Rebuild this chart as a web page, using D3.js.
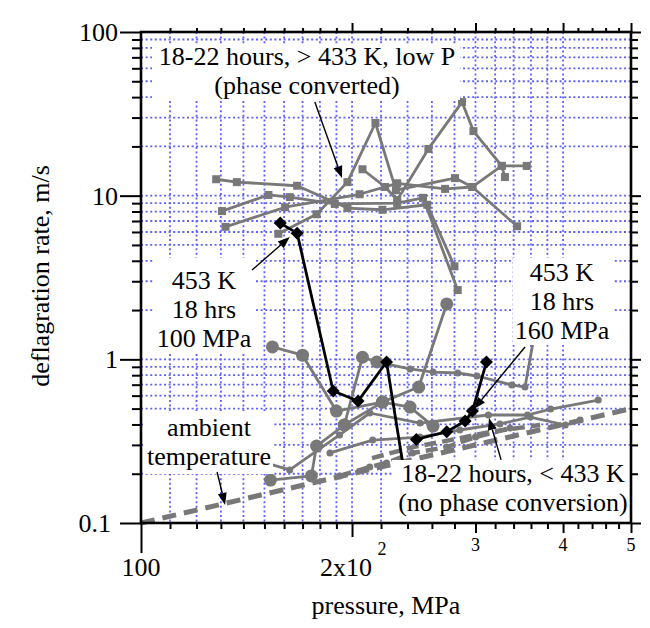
<!DOCTYPE html>
<html>
<head>
<meta charset="utf-8">
<script src="https://cdn.jsdelivr.net/npm/d3@7"></script>
<style>
  body { margin: 0; background: #fff; }
  svg { display: block; font-family: "Liberation Serif", "Times New Roman", serif; }
</style>
</head>
<body>
<svg id="chart" width="650" height="628"></svg>
<script>
// ---- data: [pressure MPa, deflagration rate m/s] ----
// 18-22 hours, > 433 K, low P (phase converted) — square markers
const sqA = [[128,12.6],[137,12.1],[167,11.5],[197,8.4],[221,8.2],[256,8.8],[280,3.7]];
const sqB = [[130.5,8.05],[152,10.1],[163,9.8],[189,8.9],[232,9.0],[252.5,9.7],[283,2.65]];
const sqC = [[132,6.45],[160.5,8.5],[205,10.2],[232,11.9],[271.5,11.0],[297,11.3],[327,15.2],[355,15.2]];
const sqD = [[157,5.85],[178,7.7],[197,12.1],[216,27.8],[231,10.8],[280.5,12.8],[297,11.3],[344,6.5]];
const sqE = [[207,14.5],[223,11.3],[232,9.4],[257,19.3],[287,37.3],[298,24.8],[327,15.2],[330.5,13.0]];

// 453 K, 18 hrs — diamond markers
const dia100 = [[158,6.8],[167,5.9],[188,0.64],[204,0.556],[224,0.963],[239,0.17]];
const dia160 = [[247,0.324],[273,0.361],[290,0.42],[297,0.483],[311,0.963]];

// 18-22 hours, < 433 K (no phase conversion) — large circles
const bigA = [[154,1.19],[170,1.06],[190,0.483],[221,0.548],[242,0.511],[261,0.391]];
const bigB = [[153,0.183],[175,0.194],[178,0.295],[195,0.397],[207,1.03],[217,0.963]];
const bigC = [[195,0.397],[221,0.548],[249,0.677],[273,2.18]];

// 18-22 hours, < 433 K — small circles
const smallA = [[217,0.963],[242,0.873],[261,0.836],[283,0.825],[301.5,0.791],[338,0.697],[353,0.677],[364,1.41]];
const smallB = [[149,0.236],[163,0.211],[192,0.345],[212,0.47],[250,0.408],[313,0.457],[356,0.457],[384,0.497],[449,0.564]];
const smallC = [[186,0.268],[214,0.321],[250,0.335],[285,0.37],[325,0.403],[359,0.444],[403,0.397],[423,0.426]];

// ambient temperature — dashed
const ambientFit = [[100,0.1],[500,0.5]];
const ambientA = [[192,0.194],[212,0.22],[224,0.233],[244,0.268],[273,0.291],[300,0.335],[336,0.38]];
const ambientB = [[213.6,0.249],[244.3,0.291],[276,0.321],[315,0.36],[371,0.397]];

// ---- axes ----
const xMinorTicks = [110,120,130,140,150,160,170,180,190,220,240,260,280,320,340,360,380,420,440,460,480];
const xMidTicks = [300,400,500];
const xMajorTicks = [200];
const xCornerTick = [100];
const xGridValues = [110,120,130,140,150,160,170,180,190,200,220,240,260,280,300,320,340,360,380,400];
const xSmallLabels = [["3",300],["4",400],["5",500]];
const yMajorTicks = [0.1,1,10,100];
const yMinorTicks = [0.2,0.3,0.4,0.5,0.6,0.7,0.8,0.9,2,3,4,5,6,7,8,9,20,30,40,50,60,70,80,90];
const yGridValues = [0.2,0.3,0.4,0.5,0.6,0.7,0.8,0.9,1,2,3,4,5,6,7,8,9,10,20,30,40,50,60,70,80,90];
const yTickLabels = ["0.1","1","10","100"];

const svg = d3.select("#chart");
const x = d3.scaleLog().domain([100, 500]).range([141, 631]);
const y = d3.scaleLog().domain([0.1, 100]).range([523, 32]);
const GRAY = "#787878";

// dotted grid
const grid = svg.append("g")
  .attr("stroke", "#5f5fff").attr("stroke-width", 1.8).attr("stroke-dasharray", "2,2.6");
grid.selectAll("line.gv").data(xGridValues).join("line").attr("class", "gv")
  .attr("x1", d => x(d)).attr("x2", d => x(d)).attr("y1", y(100)).attr("y2", y(0.1));
grid.selectAll("line.gh").data(yGridValues).join("line").attr("class", "gh")
  .attr("x1", x(100)).attr("x2", x(500)).attr("y1", d => y(d)).attr("y2", d => y(d));

const line = d3.line().x(d => x(d[0])).y(d => y(d[1]));
const plot = svg.append("g");

function drawLine(data, color, width, dash) {
  plot.append("path").datum(data)
    .attr("d", line).attr("fill", "none")
    .attr("stroke", color).attr("stroke-width", width)
    .attr("stroke-linejoin", "round")
    .attr("stroke-dasharray", dash || null);
}
function drawSquares(data, color, s) {
  plot.append("g").selectAll("rect").data(data).join("rect")
    .attr("x", d => x(d[0]) - s / 2).attr("y", d => y(d[1]) - s / 2)
    .attr("width", s).attr("height", s).attr("fill", color);
}
function drawCircles(data, color, r) {
  plot.append("g").selectAll("circle").data(data).join("circle")
    .attr("cx", d => x(d[0])).attr("cy", d => y(d[1])).attr("r", r).attr("fill", color);
}
function drawDiamonds(data, color, h) {
  plot.append("g").selectAll("path").data(data).join("path")
    .attr("d", d => {
      const cx = x(d[0]), cy = y(d[1]);
      return `M${cx},${cy - h}L${cx + h},${cy}L${cx},${cy + h}L${cx - h},${cy}Z`;
    })
    .attr("fill", color);
}

// ambient temperature
drawLine(ambientFit, GRAY, 5, "14,8");
drawLine(ambientA, GRAY, 4.5, "12,6");
drawCircles(ambientA, GRAY, 3.5);
drawLine(ambientB, GRAY, 4.5, "12,6");

// no phase conversion
[smallA, smallB, smallC].forEach(s => { drawLine(s, GRAY, 2.8); drawCircles(s, GRAY, 3.5); });
[bigA, bigB, bigC].forEach(s => { drawLine(s, GRAY, 2.8); drawCircles(s, GRAY, 6.5); });

// phase converted
[sqA, sqB, sqC, sqD, sqE].forEach(s => { drawLine(s, GRAY, 2.8); drawSquares(s, GRAY, 8); });

// 453 K, 18 hrs
[dia100, dia160].forEach(s => { drawLine(s, "#000", 2.8); drawDiamonds(s, "#000", 6.5); });

// ---- annotation boxes ----
const notes = [
  { box: [152, 44, 308, 56], cx: 307, lines: [["18-22 hours, > 433 K, low P", 65], ["(phase converted)", 94]] },
  { box: [153, 258, 102, 94], cx: 204, lines: [["453 K", 289], ["18 hrs", 318], ["100 MPa", 347]] },
  { box: [145, 411, 128, 63], cx: 209, lines: [["ambient", 436], ["temperature", 465]] },
  { box: [513, 258, 100, 87], cx: 562, lines: [["453 K", 281], ["18 hrs", 310], ["160 MPa", 339]] },
  { box: [392, 460, 239, 62], cx: 513, lines: [["18-22 hours, < 433 K", 482], ["(no phase conversion)", 511]] }
];
const ann = svg.append("g");
notes.forEach(n => {
  ann.append("rect").attr("x", n.box[0]).attr("y", n.box[1])
    .attr("width", n.box[2]).attr("height", n.box[3]).attr("fill", "#fff");
  n.lines.forEach(([t, by]) => {
    ann.append("text").attr("x", n.cx).attr("y", by)
      .attr("text-anchor", "middle").attr("font-size", 26).attr("fill", "#000").text(t);
  });
});

// pointer arrows, ends given in data units
const arrows = [
  [[177, 37.3], [193.5, 12.8]],
  [[144, 3.51], [163, 5.59]],
  [[353, 1.19], [298.5, 0.497]],
  [[128.4, 0.205], [131.8, 0.129]],
  [[326.3, 0.243], [313.6, 0.438]]
];
arrows.forEach(([a, b]) => {
  const x1 = x(a[0]), y1 = y(a[1]), x2 = x(b[0]), y2 = y(b[1]);
  const ang = Math.atan2(y2 - y1, x2 - x1);
  const L = 12, W = 4.5;
  const bx = x2 - L * Math.cos(ang), by = y2 - L * Math.sin(ang);
  ann.append("line").attr("x1", x1).attr("y1", y1).attr("x2", bx).attr("y2", by)
    .attr("stroke", "#000").attr("stroke-width", 1.4);
  ann.append("path")
    .attr("d", `M${x2},${y2}L${bx + W * Math.sin(ang)},${by - W * Math.cos(ang)}L${bx - W * Math.sin(ang)},${by + W * Math.cos(ang)}Z`)
    .attr("fill", "#000");
});

// ---- frame and ticks ----
const ax = svg.append("g");
function ticks(gen, scale, vals, size, tx, ty) {
  const g = ax.append("g").attr("transform", `translate(${tx},${ty})`)
    .call(gen(scale).tickValues(vals).tickSize(size).tickSizeOuter(0).tickFormat(""));
  g.select(".domain").remove();
  g.selectAll(".tick line").attr("stroke", "#000").attr("stroke-width", 2);
}
ticks(d3.axisBottom, x, xMinorTicks, 6, 0, 523);
ticks(d3.axisBottom, x, xMidTicks, 10, 0, 523);
ticks(d3.axisBottom, x, xMajorTicks, 14, 0, 523);
ticks(d3.axisBottom, x, xCornerTick, 30, 0, 523);
ticks(d3.axisTop, x, xMinorTicks, 4, 0, 32);
ticks(d3.axisTop, x, xMidTicks.concat(xMajorTicks), 9, 0, 32);
ticks(d3.axisLeft, y, yMinorTicks, 9, 141, 0);
ticks(d3.axisLeft, y, yMajorTicks, 21, 141, 0);
ticks(d3.axisRight, y, yMinorTicks, 7, 631, 0);
ticks(d3.axisRight, y, yMajorTicks, 10, 631, 0);

ax.append("rect").attr("x", x(100)).attr("y", y(100))
  .attr("width", x(500) - x(100)).attr("height", y(0.1) - y(100))
  .attr("fill", "none").attr("stroke", "#000").attr("stroke-width", 2.6);

// tick labels
const labels = svg.append("g").attr("fill", "#000");
const yLabelRight = [111, 118, 118, 118];
yMajorTicks.forEach((v, i) => {
  labels.append("text").attr("x", yLabelRight[i]).attr("y", y(v) + 9)
    .attr("text-anchor", "end").attr("font-size", 26).text(yTickLabels[i]);
});
labels.append("text").attr("x", x(100)).attr("y", 576)
  .attr("text-anchor", "middle").attr("font-size", 26).text("100");
labels.append("text").attr("x", x(200) - 6).attr("y", 576)
  .attr("text-anchor", "middle").attr("font-size", 26).text("2x10");
labels.append("text").attr("x", x(200) + 30).attr("y", 555)
  .attr("text-anchor", "middle").attr("font-size", 18).text("2");
xSmallLabels.forEach(([t, v]) => {
  labels.append("text").attr("x", x(v)).attr("y", 551)
    .attr("text-anchor", "middle").attr("font-size", 18).text(t);
});

// axis titles
labels.append("text").attr("x", 386).attr("y", 614)
  .attr("text-anchor", "middle").attr("font-size", 26).text("pressure, MPa");
labels.append("text").attr("transform", "translate(49,276) rotate(-90)")
  .attr("text-anchor", "middle").attr("font-size", 26).text("deflagration rate, m/s");
</script>
</body>
</html>
